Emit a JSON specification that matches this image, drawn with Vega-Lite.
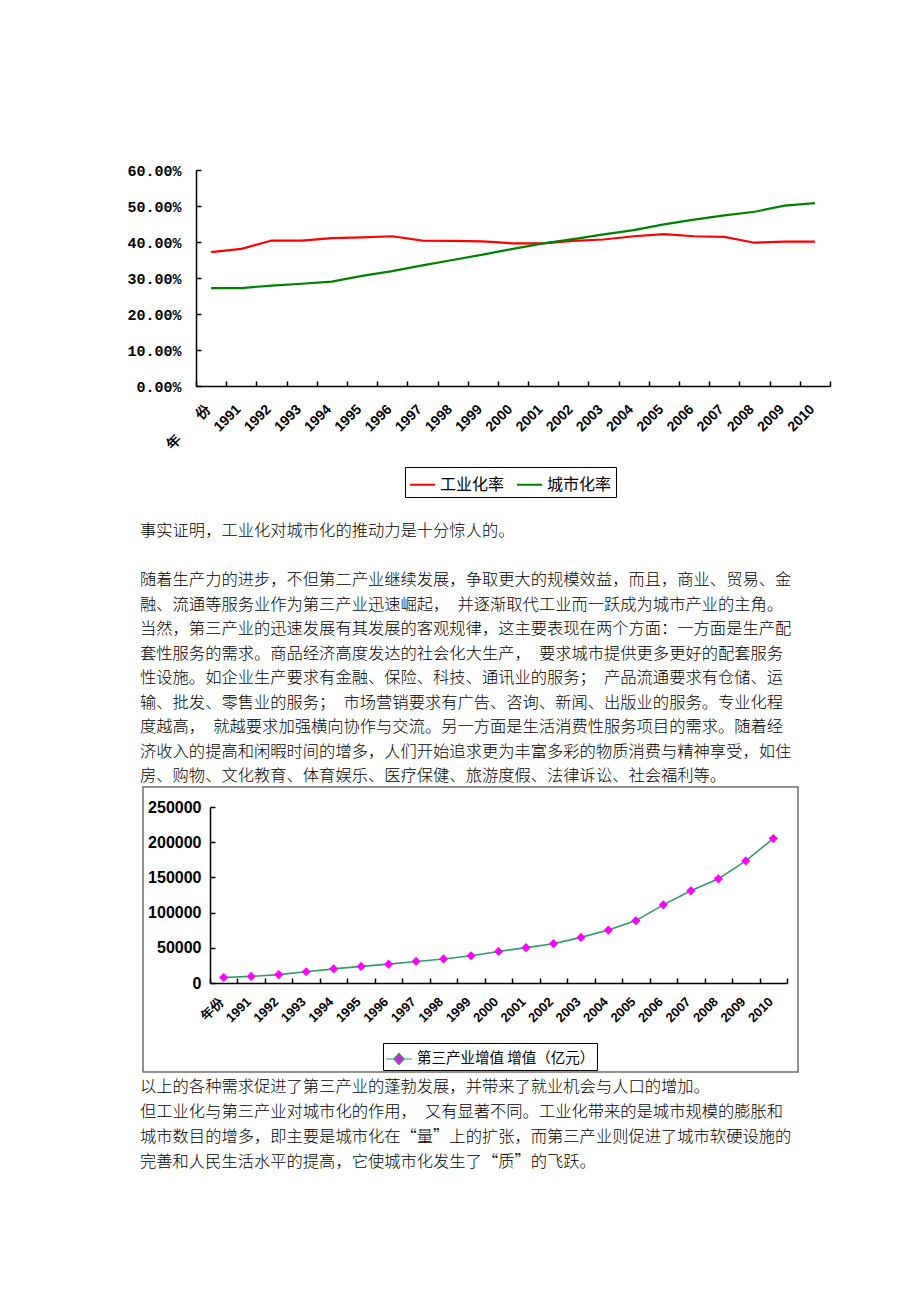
{
  "$schema": "https://vega.github.io/schema/vega-lite/v6.json",
  "background": "white",
  "padding": 0,
  "spacing": 0,
  "config": {
    "view": {"stroke": null},
    "concat": {"spacing": 0},
    "axis": {"grid": false, "domainColor": "black", "tickColor": "black", "labelColor": "black", "title": null}
  },
  "vconcat": [
    {
      "width": 920,
      "height": 510,
      "data": {"values": [
        {"year": "年　　份", "s": "工业化率", "v": 0.372}, {"year": "1991", "s": "工业化率", "v": 0.381}, {"year": "1992", "s": "工业化率", "v": 0.404}, {"year": "1993", "s": "工业化率", "v": 0.404}, {"year": "1994", "s": "工业化率", "v": 0.411}, {"year": "1995", "s": "工业化率", "v": 0.413}, {"year": "1996", "s": "工业化率", "v": 0.416}, {"year": "1997", "s": "工业化率", "v": 0.404}, {"year": "1998", "s": "工业化率", "v": 0.403}, {"year": "1999", "s": "工业化率", "v": 0.402}, {"year": "2000", "s": "工业化率", "v": 0.396}, {"year": "2001", "s": "工业化率", "v": 0.396}, {"year": "2002", "s": "工业化率", "v": 0.403}, {"year": "2003", "s": "工业化率", "v": 0.407}, {"year": "2004", "s": "工业化率", "v": 0.416}, {"year": "2005", "s": "工业化率", "v": 0.422}, {"year": "2006", "s": "工业化率", "v": 0.416}, {"year": "2007", "s": "工业化率", "v": 0.414}, {"year": "2008", "s": "工业化率", "v": 0.398}, {"year": "2009", "s": "工业化率", "v": 0.401}, {"year": "2010", "s": "工业化率", "v": 0.401},
        {"year": "年　　份", "s": "城市化率", "v": 0.272}, {"year": "1991", "s": "城市化率", "v": 0.272}, {"year": "1992", "s": "城市化率", "v": 0.279}, {"year": "1993", "s": "城市化率", "v": 0.284}, {"year": "1994", "s": "城市化率", "v": 0.29}, {"year": "1995", "s": "城市化率", "v": 0.306}, {"year": "1996", "s": "城市化率", "v": 0.319}, {"year": "1997", "s": "城市化率", "v": 0.335}, {"year": "1998", "s": "城市化率", "v": 0.35}, {"year": "1999", "s": "城市化率", "v": 0.365}, {"year": "2000", "s": "城市化率", "v": 0.381}, {"year": "2001", "s": "城市化率", "v": 0.396}, {"year": "2002", "s": "城市化率", "v": 0.408}, {"year": "2003", "s": "城市化率", "v": 0.421}, {"year": "2004", "s": "城市化率", "v": 0.433}, {"year": "2005", "s": "城市化率", "v": 0.449}, {"year": "2006", "s": "城市化率", "v": 0.462}, {"year": "2007", "s": "城市化率", "v": 0.474}, {"year": "2008", "s": "城市化率", "v": 0.484}, {"year": "2009", "s": "城市化率", "v": 0.501}, {"year": "2010", "s": "城市化率", "v": 0.508}
      ]},
      "mark": {"type": "line", "strokeWidth": 2.2},
      "encoding": {
        "x": {
          "field": "year", "type": "nominal", "sort": null, "bandPosition": 0.5,
          "scale": {"type": "band", "domain": ["年　　份","1991","1992","1993","1994","1995","1996","1997","1998","1999","2000","2001","2002","2003","2004","2005","2006","2007","2008","2009","2010"], "range": [196, 830], "paddingInner": 0, "paddingOuter": 0},
          "axis": {"offset": -124, "labelAngle": -45, "labelAlign": "right", "labelBaseline": "top", "labelFont": "Liberation Sans", "labelFontWeight": "bold", "labelFontSize": 14, "labelPadding": 21, "labelOffset": -8, "labelLimit": 300, "tickBand": "extent", "tickSize": -5, "tickWidth": 1.5, "domainWidth": 1.5, "labelOverlap": false}
        },
        "y": {
          "field": "v", "type": "quantitative",
          "scale": {"domain": [0, 0.6], "range": [386, 170], "nice": false},
          "axis": {"offset": -196, "values": [0, 0.1, 0.2, 0.3, 0.4, 0.5, 0.6], "format": ".2%", "labelFont": "Liberation Mono", "labelFontWeight": "bold", "labelFontSize": 15, "labelPadding": 20, "tickSize": -5, "tickWidth": 1.5, "domainWidth": 1.5}
        },
        "color": {
          "field": "s", "type": "nominal",
          "scale": {"domain": ["工业化率", "城市化率"], "range": ["#ff0000", "#008000"]},
          "legend": {"title": null, "orient": "none", "legendX": 405, "legendY": 467, "direction": "horizontal", "symbolType": "stroke", "symbolSize": 625, "symbolStrokeWidth": 2, "labelFont": "Noto Sans CJK SC", "labelFontSize": 16, "labelColor": "black", "strokeColor": "black", "fillColor": "white", "padding": 4, "columnPadding": 8, "labelOffset": 4}
        }
      }
    },
    {
      "width": 920,
      "height": 276,
      "data": {"values": [
        {"row": 0, "col": 0, "t": "事实证明，工业化对城市化的推动力是十分惊人的。"},
        {"row": 2, "col": 0, "t": "随着生产力的进步，不但第二产业继续发展，争取更大的规模效益，而且，商业、贸易、金"},
        {"row": 3, "col": 0, "t": "融、流通等服务业作为第三产业迅速崛起，　并逐渐取代工业而一跃成为城市产业的主角。"},
        {"row": 4, "col": 0, "t": "当然，第三产业的迅速发展有其发展的客观规律，这主要表现在两个方面：一方面是生产配"},
        {"row": 5, "col": 0, "t": "套性服务的需求。商品经济高度发达的社会化大生产，　要求城市提供更多更好的配套服务"},
        {"row": 6, "col": 0, "t": "性设施。如企业生产要求有金融、保险、科技、通讯业的服务；　产品流通要求有仓储、运"},
        {"row": 7, "col": 0, "t": "输、批发、零售业的服务；　市场营销要求有广告、咨询、新闻、出版业的服务。专业化程"},
        {"row": 8, "col": 0, "t": "度越高，　就越要求加强横向协作与交流。另一方面是生活消费性服务项目的需求。随着经"},
        {"row": 9, "col": 0, "t": "济收入的提高和闲暇时间的增多，人们开始追求更为丰富多彩的物质消费与精神享受，如住"},
        {"row": 10, "col": 0, "t": "房、购物、文化教育、体育娱乐、医疗保健、旅游度假、法律诉讼、社会福利等。"}
      ]},
      "mark": {"type": "text", "align": "left", "baseline": "middle", "font": "Noto Sans CJK SC", "fontSize": 16.3, "fontWeight": 300, "color": "black"},
      "encoding": {
        "x": {"field": "col", "type": "quantitative", "scale": {"domain": [0, 1], "range": [140, 920]}, "axis": null},
        "y": {"field": "row", "type": "quantitative", "scale": {"domain": [0, 10], "range": [21, 266]}, "axis": null},
        "text": {"field": "t"}
      }
    },
    {
      "hconcat": [
        {
          "width": 142,
          "height": 285,
          "data": {"values": []},
          "mark": {"type": "point", "opacity": 0},
          "encoding": {}
        },
        {
          "width": 655,
          "height": 285,
          "view": {"stroke": "#6e6e6e", "strokeWidth": 1.5},
          "data": {"values": [
            {"year": "年份", "s": "第三产业增值 增值（亿元）", "v": 7800}, {"year": "1991", "s": "第三产业增值 增值（亿元）", "v": 9400}, {"year": "1992", "s": "第三产业增值 增值（亿元）", "v": 11900}, {"year": "1993", "s": "第三产业增值 增值（亿元）", "v": 16000}, {"year": "1994", "s": "第三产业增值 增值（亿元）", "v": 20100}, {"year": "1995", "s": "第三产业增值 增值（亿元）", "v": 23600}, {"year": "1996", "s": "第三产业增值 增值（亿元）", "v": 26800}, {"year": "1997", "s": "第三产业增值 增值（亿元）", "v": 30600}, {"year": "1998", "s": "第三产业增值 增值（亿元）", "v": 34200}, {"year": "1999", "s": "第三产业增值 增值（亿元）", "v": 38700}, {"year": "2000", "s": "第三产业增值 增值（亿元）", "v": 44800}, {"year": "2001", "s": "第三产业增值 增值（亿元）", "v": 50200}, {"year": "2002", "s": "第三产业增值 增值（亿元）", "v": 55800}, {"year": "2003", "s": "第三产业增值 增值（亿元）", "v": 64800}, {"year": "2004", "s": "第三产业增值 增值（亿元）", "v": 75200}, {"year": "2005", "s": "第三产业增值 增值（亿元）", "v": 88600}, {"year": "2006", "s": "第三产业增值 增值（亿元）", "v": 111000}, {"year": "2007", "s": "第三产业增值 增值（亿元）", "v": 131000}, {"year": "2008", "s": "第三产业增值 增值（亿元）", "v": 148000}, {"year": "2009", "s": "第三产业增值 增值（亿元）", "v": 173400}, {"year": "2010", "s": "第三产业增值 增值（亿元）", "v": 205200}
          ]},
          "encoding": {
            "x": {
              "field": "year", "type": "nominal", "sort": null, "bandPosition": 0.5,
              "scale": {"type": "band", "domain": ["年份","1991","1992","1993","1994","1995","1996","1997","1998","1999","2000","2001","2002","2003","2004","2005","2006","2007","2008","2009","2010"], "range": [67, 644], "paddingInner": 0, "paddingOuter": 0},
              "axis": {"offset": -89, "labelAngle": -45, "labelAlign": "right", "labelBaseline": "top", "labelFont": "Liberation Sans", "labelFontWeight": "bold", "labelFontSize": 13, "labelPadding": 17, "labelOffset": -7, "tickBand": "extent", "tickSize": -5, "tickWidth": 1.5, "domainWidth": 1.5, "labelOverlap": false}
            },
            "y": {
              "field": "v", "type": "quantitative",
              "scale": {"domain": [0, 250000], "range": [196, 20], "nice": false},
              "axis": {"offset": -67, "values": [0, 50000, 100000, 150000, 200000, 250000], "format": "d", "labelFont": "Liberation Sans", "labelFontWeight": "bold", "labelFontSize": 16, "labelPadding": 14, "tickSize": -5, "tickWidth": 1.5, "domainWidth": 1.5}
            }
          },
          "layer": [
            {
              "mark": {"type": "line", "color": "#339966", "strokeWidth": 1.6}
            },
            {
              "mark": {"type": "point", "shape": "diamond", "filled": true, "size": 85, "opacity": 1},
              "encoding": {
                "fill": {
                  "field": "s", "type": "nominal",
                  "scale": {"range": ["#ff00ff"]},
                  "legend": {"title": null, "orient": "none", "legendX": 383, "legendY": 1043, "direction": "horizontal", "symbolType": "M-1,0L1,0M-0.4,0L0,-0.44L0.4,0L0,0.44Z", "symbolSize": 676, "symbolStrokeColor": "#339966", "symbolStrokeWidth": 1.2, "symbolOpacity": 1, "labelFont": "Noto Sans CJK SC", "labelFontSize": 14.5, "labelLimit": 400, "labelColor": "black", "strokeColor": "black", "fillColor": "white", "padding": 2, "labelOffset": 4}
                }
              }
            }
          ]
        }
      ]
    },
    {
      "width": 920,
      "height": 231,
      "data": {"values": [
        {"row": 0, "col": 0, "t": "以上的各种需求促进了第三产业的蓬勃发展，并带来了就业机会与人口的增加。"},
        {"row": 1, "col": 0, "t": "但工业化与第三产业对城市化的作用，　又有显著不同。工业化带来的是城市规模的膨胀和"},
        {"row": 2, "col": 0, "t": "城市数目的增多，即主要是城市化在“量”上的扩张，而第三产业则促进了城市软硬设施的"},
        {"row": 3, "col": 0, "t": "完善和人民生活水平的提高，它使城市化发生了“质”的飞跃。"}
      ]},
      "mark": {"type": "text", "align": "left", "baseline": "middle", "font": "Noto Sans CJK SC", "fontSize": 16.3, "fontWeight": 300, "color": "black"},
      "encoding": {
        "x": {"field": "col", "type": "quantitative", "scale": {"domain": [0, 1], "range": [140, 920]}, "axis": null},
        "y": {"field": "row", "type": "quantitative", "scale": {"domain": [0, 3], "range": [14, 89]}, "axis": null},
        "text": {"field": "t"}
      }
    }
  ]
}
